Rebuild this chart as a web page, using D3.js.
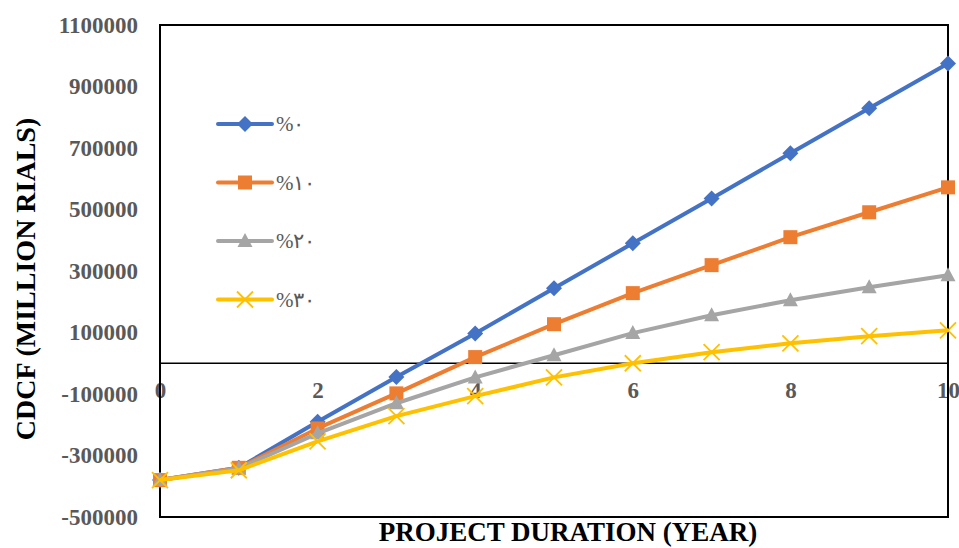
<!DOCTYPE html>
<html>
<head>
<meta charset="utf-8">
<script src="https://cdn.jsdelivr.net/npm/d3@7"></script>
<style>
  body { margin: 0; background: #fff; }
  svg { display: block; }
</style>
</head>
<body>
<svg id="chart"></svg>
<script>
// Chart data
const years = [0, 1, 2, 3, 4, 5, 6, 7, 8, 9, 10];
const rate0 = [-380000, -340000, -190000, -45000, 97000, 244000, 390000, 536000, 683000, 829000, 975000];
const rate10 = [-380000, -340000, -212000, -98000, 20000, 127000, 228000, 319000, 410000, 491000, 572000];
const rate20 = [-380000, -342000, -228000, -130000, -46000, 26000, 98000, 156000, 205000, 247000, 286000];
const rate30 = [-380000, -348000, -254000, -172000, -107000, -46000, 0, 36000, 65000, 88000, 107000];
const seriesNames = ['%۰', '%۱۰', '%۲۰', '%۳۰'];
const yTicks = [-500000, -300000, -100000, 100000, 300000, 500000, 700000, 900000, 1100000];
const xTicks = [0, 2, 4, 6, 8, 10];

const W = 959, H = 548;
const margin = { left: 160, right: 11, top: 25, bottom: 31 };
const serif = '"Times New Roman", "Liberation Serif", serif';

const series = [
  { name: seriesNames[0], values: rate0, color: '#4472C4', marker: 'diamond' },
  { name: seriesNames[1], values: rate10, color: '#ED7D31', marker: 'square' },
  { name: seriesNames[2], values: rate20, color: '#A5A5A5', marker: 'triangle' },
  { name: seriesNames[3], values: rate30, color: '#FFC000', marker: 'x' }
];

const svg = d3.select('#chart').attr('width', W).attr('height', H);

const x = d3.scaleLinear().domain([0, 10]).range([margin.left, W - margin.right]);
const y = d3.scaleLinear().domain([-500000, 1100000]).range([H - margin.bottom, margin.top]);

// plain hyphen for negatives, like the original
const fmt = d => String(d);

// Y tick labels
const yAxis = d3.axisLeft(y).tickValues(yTicks).tickSize(0).tickPadding(22).tickFormat(fmt);
const yg = svg.append('g').attr('transform', `translate(${margin.left},0)`).call(yAxis);
yg.select('.domain').remove();
yg.selectAll('text')
  .attr('font-family', serif)
  .attr('font-weight', 'bold')
  .attr('font-size', 23)
  .attr('fill', '#595959');

// X tick labels placed along the zero line
const xAxis = d3.axisBottom(x).tickValues(xTicks).tickSize(0).tickPadding(18).tickFormat(fmt);
const xg = svg.append('g').attr('transform', `translate(0,${y(0)})`).call(xAxis);
xg.select('.domain').remove();
xg.selectAll('text')
  .attr('font-family', serif)
  .attr('font-weight', 'bold')
  .attr('font-size', 23)
  .attr('fill', '#595959');

// Plot frame
svg.append('rect')
  .attr('x', x(0)).attr('y', y(1100000))
  .attr('width', x(10) - x(0)).attr('height', y(-500000) - y(1100000))
  .attr('fill', 'none').attr('stroke', '#000').attr('stroke-width', 2);

// Zero line
svg.append('line')
  .attr('x1', x(0)).attr('x2', x(10))
  .attr('y1', y(0)).attr('y2', y(0))
  .attr('stroke', '#000').attr('stroke-width', 1.5);

// Marker drawing
function drawMarker(sel, type, color) {
  if (type === 'diamond') {
    sel.append('path').attr('d', 'M0,-8L8,0L0,8L-8,0Z').attr('fill', color);
  } else if (type === 'square') {
    sel.append('rect').attr('x', -7).attr('y', -7).attr('width', 14).attr('height', 14).attr('fill', color);
  } else if (type === 'triangle') {
    sel.append('path').attr('d', 'M0,-8L7.5,6L-7.5,6Z').attr('fill', color);
  } else {
    sel.append('path').attr('d', 'M-8,-8L8,8M-8,8L8,-8').attr('stroke', color).attr('stroke-width', 1.8).attr('fill', 'none');
  }
}

const line = d3.line().x((d, i) => x(years[i])).y(d => y(d));

series.forEach(s => {
  svg.append('path')
    .datum(s.values)
    .attr('d', line)
    .attr('fill', 'none')
    .attr('stroke', s.color)
    .attr('stroke-width', 4)
    .attr('stroke-linejoin', 'round');
  svg.append('g').selectAll('g')
    .data(s.values)
    .join('g')
    .attr('transform', (d, i) => `translate(${x(years[i])},${y(d)})`)
    .each(function() { drawMarker(d3.select(this), s.marker, s.color); });
});

// Legend
const legend = svg.append('g');
series.forEach((s, i) => {
  const ly = 124 + i * 58.5;
  const item = legend.append('g').attr('transform', `translate(218,${ly})`);
  item.append('line').attr('x1', 0).attr('x2', 54).attr('y1', 0).attr('y2', 0)
    .attr('stroke', s.color).attr('stroke-width', 4).attr('stroke-linecap', 'round');
  drawMarker(item.append('g').attr('transform', 'translate(27,0)'), s.marker, s.color);
  item.append('text')
    .attr('x', 58).attr('y', 7)
    .attr('direction', 'ltr')
    .attr('font-family', serif)
    .attr('font-size', 21)
    .attr('fill', '#595959')
    .text(s.name);
});

// Axis titles
svg.append('text')
  .attr('transform', 'translate(35,279) rotate(-90)')
  .attr('text-anchor', 'middle')
  .attr('font-family', serif)
  .attr('font-weight', 'bold')
  .attr('font-size', 28)
  .attr('fill', '#000')
  .text('CDCF (MILLION RIALS)');

svg.append('text')
  .attr('x', 568).attr('y', 541)
  .attr('text-anchor', 'middle')
  .attr('font-family', serif)
  .attr('font-weight', 'bold')
  .attr('font-size', 27)
  .attr('fill', '#000')
  .text('PROJECT DURATION (YEAR)');
</script>
</body>
</html>
